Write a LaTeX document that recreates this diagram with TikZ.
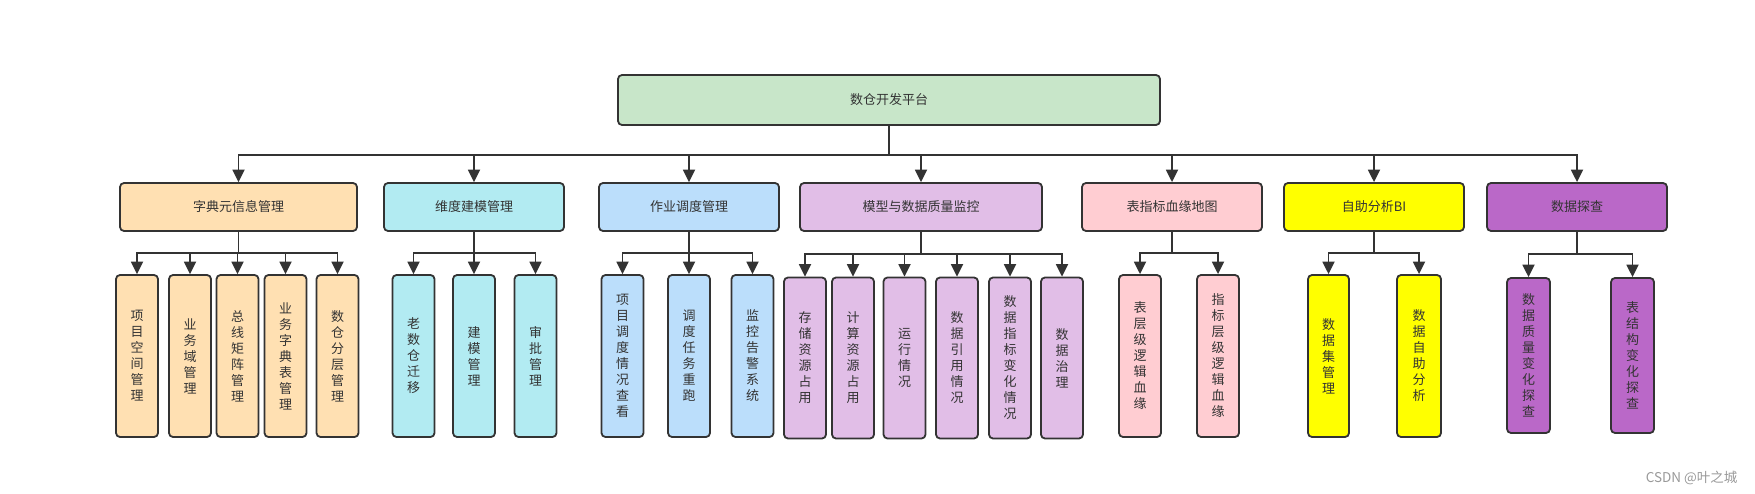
\documentclass[tikz,border=0pt]{standalone}
\usepackage{fontspec}
\newfontfamily\cjk{Noto Sans CJK SC}
\usetikzlibrary{arrows.meta,positioning}
\definecolor{ink}{HTML}{333333}
\definecolor{rootgreen}{HTML}{C8E6C9}
\definecolor{dictorange}{HTML}{FFE0B2}
\definecolor{dimcyan}{HTML}{B2EBF2}
\definecolor{jobblue}{HTML}{BBDEFB}
\definecolor{modelpurple}{HTML}{E1BEE7}
\definecolor{lineagepink}{HTML}{FFCDD2}
\definecolor{biyellow}{HTML}{FFFF00}
\definecolor{probepurple}{HTML}{BA68C8}

\begin{document}
\begin{tikzpicture}[x=1pt, y=-1pt,
    box/.style={draw=ink, line width=1.8pt, rounded corners=4pt, text=ink,
        font=\cjk\fontsize{13}{16}\selectfont, inner sep=0pt},
    head/.style={box, minimum height=48pt},
    leaf/.style={box, minimum width=42pt, minimum height=162pt, align=center},
    link/.style={draw=ink, line width=1.8pt, -{Triangle[width=12pt,length=12.5pt]}}]
    \useasboundingbox (0,0) rectangle (1755,494);

    % The platform
    \node[head, fill=rootgreen, minimum width=542pt, minimum height=50pt] (root) at (889,100) {数仓开发平台};

    % Modules
    \node[head, fill=dictorange, minimum width=237pt] (dict) at (238.5,207) {字典元信息管理};
    \node[head, fill=dimcyan, minimum width=180pt] (dim) at (474,207) {维度建模管理};
    \node[head, fill=jobblue, minimum width=180pt] (job) at (689,207) {作业调度管理};
    \node[head, fill=modelpurple, minimum width=242pt] (model) at (921,207) {模型与数据质量监控};
    \node[head, fill=lineagepink, minimum width=180pt] (lineage) at (1172,207) {表指标血缘地图};
    \node[head, fill=biyellow, minimum width=180pt] (bi) at (1374,207) {自助分析BI};
    \node[head, fill=probepurple, minimum width=180pt] (probe) at (1577,207) {数据探查};

    \foreach \n in {dict,dim,job,model,lineage,bi,probe}
        \draw[link] (root.south) -- ++(0,29) -| (\n.north);

    % Dictionary leaves
    \node[leaf, fill=dictorange] (dict1) at (137,356) {项\\目\\空\\间\\管\\理};
    \node[leaf, fill=dictorange] (dict2) at (190,356) {业\\务\\域\\管\\理};
    \node[leaf, fill=dictorange] (dict3) at (237.5,356) {总\\线\\矩\\阵\\管\\理};
    \node[leaf, fill=dictorange] (dict4) at (285.5,356) {业\\务\\字\\典\\表\\管\\理};
    \node[leaf, fill=dictorange] (dict5) at (337.5,356) {数\\仓\\分\\层\\管\\理};
    \foreach \n in {dict1,dict2,dict3,dict4,dict5}
        \draw[link] (dict.south) -- ++(0,21) -| (\n.north);

    % Modelling leaves
    \node[leaf, fill=dimcyan] (dim1) at (413.5,356) {老\\数\\仓\\迁\\移};
    \node[leaf, fill=dimcyan] (dim2) at (474,356) {建\\模\\管\\理};
    \node[leaf, fill=dimcyan] (dim3) at (535.5,356) {审\\批\\管\\理};
    \foreach \n in {dim1,dim2,dim3}
        \draw[link] (dim.south) -- ++(0,21) -| (\n.north);

    % Scheduling leaves
    \node[leaf, fill=jobblue] (job1) at (622.5,356) {项\\目\\调\\度\\情\\况\\查\\看};
    \node[leaf, fill=jobblue] (job2) at (689,356) {调\\度\\任\\务\\重\\跑};
    \node[leaf, fill=jobblue] (job3) at (752.5,356) {监\\控\\告\\警\\系\\统};
    \foreach \n in {job1,job2,job3}
        \draw[link] (job.south) -- ++(0,21) -| (\n.north);

    % Quality leaves
    \node[leaf, fill=modelpurple, minimum height=161pt] (model1) at (805,358) {存\\储\\资\\源\\占\\用};
    \node[leaf, fill=modelpurple, minimum height=161pt] (model2) at (853,358) {计\\算\\资\\源\\占\\用};
    \node[leaf, fill=modelpurple, minimum height=161pt] (model3) at (904.5,358) {运\\行\\情\\况};
    \node[leaf, fill=modelpurple, minimum height=161pt] (model4) at (957,358) {数\\据\\引\\用\\情\\况};
    \node[leaf, fill=modelpurple, minimum height=161pt] (model5) at (1010,358) {数\\据\\指\\标\\变\\化\\情\\况};
    \node[leaf, fill=modelpurple, minimum height=161pt] (model6) at (1062,358) {数\\据\\治\\理};
    \foreach \n in {model1,model2,model3,model4,model5,model6}
        \draw[link] (model.south) -- ++(0,22.5) -| (\n.north);

    % Lineage leaves
    \node[leaf, fill=lineagepink] (lineage1) at (1140,356) {表\\层\\级\\逻\\辑\\血\\缘};
    \node[leaf, fill=lineagepink] (lineage2) at (1218,356) {指\\标\\层\\级\\逻\\辑\\血\\缘};
    \foreach \n in {lineage1,lineage2}
        \draw[link] (lineage.south) -- ++(0,21) -| (\n.north);

    % BI leaves
    \node[leaf, fill=biyellow, minimum width=41pt] (bi1) at (1328.5,356) {数\\据\\集\\管\\理};
    \node[leaf, fill=biyellow, minimum width=44pt] (bi2) at (1419,356) {数\\据\\自\\助\\分\\析};
    \foreach \n in {bi1,bi2}
        \draw[link] (bi.south) -- ++(0,21) -| (\n.north);

    % Probe leaves
    \node[leaf, fill=probepurple, minimum width=43pt, minimum height=155pt] (probe1) at (1528.5,355.5) {数\\据\\质\\量\\变\\化\\探\\查};
    \node[leaf, fill=probepurple, minimum width=43pt, minimum height=155pt] (probe2) at (1632.5,355.5) {表\\结\\构\\变\\化\\探\\查};
    \foreach \n in {probe1,probe2}
        \draw[link] (probe.south) -- ++(0,22.5) -| (\n.north);

    % Watermark
    \node[anchor=east, text=black!40, font=\cjk\fontsize{13.5}{14}\selectfont] (mark) at (1741,478) {CSDN @叶之城};
\end{tikzpicture}
\end{document}
